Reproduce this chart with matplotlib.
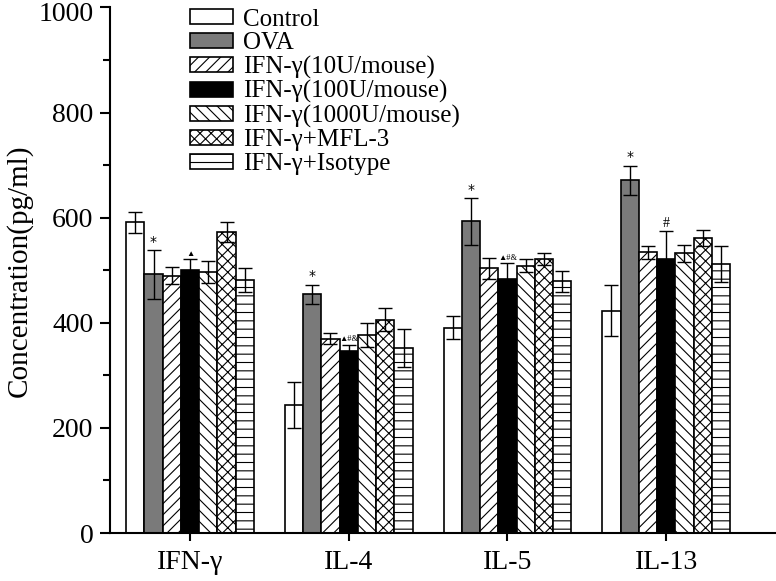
import numpy as np
import matplotlib
matplotlib.use("Agg")
import matplotlib.pyplot as plt
import matplotlib.transforms as mtransforms

plt.rcParams['font.family'] = ['Liberation Serif', 'DejaVu Serif']
plt.rcParams['hatch.linewidth'] = 0.8

# Data
cytokines = ["IFN-γ", "IL-4", "IL-5", "IL-13"]
groups = ["Control", "OVA", "IFN-γ(10U/mouse)", "IFN-γ(100U/mouse)",
          "IFN-γ(1000U/mouse)", "IFN-γ+MFL-3", "IFN-γ+Isotype"]

control = [591, 243, 391, 423]
ova = [492, 454, 593, 671]
ifn10 = [490, 370, 504, 534]
ifn100 = [500, 346, 484, 522]
ifn1000 = [497, 377, 509, 532]
mfl3 = [572, 406, 521, 561]
isotype = [482, 352, 479, 512]

control_err = [20, 44, 22, 48]
ova_err = [46, 18, 44, 28]
ifn10_err = [16, 10, 20, 13]
ifn100_err = [21, 12, 29, 52]
ifn1000_err = [21, 23, 12, 16]
mfl3_err = [19, 22, 11, 15]
isotype_err = [23, 37, 20, 35]

ova_marks = ["*", "*", "*", "*"]
ifn100_marks = ["▲", "▲#&", "▲#&", "#"]

means = [control, ova, ifn10, ifn100, ifn1000, mfl3, isotype]
errs = [control_err, ova_err, ifn10_err, ifn100_err, ifn1000_err, mfl3_err, isotype_err]

# Styles
faces = ["white", "#7a7a7a", "white", "black", "white", "white", "white"]
hatches = [None, None, "///", None, "\\\\\\", "xxx", "--"]

fig = plt.figure(figsize=(7.76, 5.81), dpi=100)
ax = fig.add_axes([0.1418, 0.0826, 0.857, 0.9045])

x = np.arange(len(cytokines))
width = 0.115

handles = []
for i, (m, e) in enumerate(zip(means, errs)):
    pos = x + (i - 3) * width
    b = ax.bar(pos, m, width, color=faces[i], edgecolor="black", linewidth=1.2,
               hatch=hatches[i], label=groups[i], zorder=2)
    ax.errorbar(pos, m, yerr=e, fmt="none", ecolor="black", elinewidth=1.0,
                capsize=5, capthick=1.0, zorder=3)
    handles.append(b)

# significance marks
for j in range(len(cytokines)):
    px = x[j] - 2 * width
    ax.text(px, ova[j] + ova_err[j] + 3, ova_marks[j], ha="center", va="bottom",
            fontsize=10, family=['DejaVu Sans'])
    px = x[j]
    mark = ifn100_marks[j]
    ax.text(px, ifn100[j] + ifn100_err[j] + 3, mark, ha="center", va="bottom",
            fontsize=10 if mark == "#" else 6, family=['Liberation Serif', 'DejaVu Sans'])

ax.set_ylim(0, 1000)
ax.set_xlim(-0.504, 3.686)
ax.set_yticks(np.arange(0, 1001, 200))
ax.set_yticks(np.arange(100, 1000, 200), minor=True)
ax.set_xticks(x)
ax.set_xticklabels(cytokines)
ax.tick_params(axis="both", labelsize=20, width=1.5, direction="out")
ax.tick_params(axis="y", which="major", length=7, pad=5)
ax.tick_params(axis="y", which="minor", length=5, width=1.5)
ax.tick_params(axis="x", which="major", length=6, pad=6)
ax.spines["top"].set_visible(False)
ax.spines["right"].set_visible(False)
ax.spines["left"].set_linewidth(1.5)
ax.spines["bottom"].set_linewidth(1.5)
ax.set_ylabel("Concentration(pg/ml)", fontsize=21, labelpad=4)
ylabels = ax.get_yticklabels()
for lbl in ylabels:
    lbl.set_va("center_baseline")
# keep the top label ("1000") just inside the figure
top = ylabels[-1]
top.set_transform(top.get_transform() +
                  mtransforms.ScaledTranslation(0, -3 / 72, fig.dpi_scale_trans))

leg = ax.legend(handles=handles, loc="upper left", bbox_to_anchor=(0.245, 0.985),
                bbox_transform=fig.transFigure, frameon=False, fontsize=18,
                handlelength=1.72, handleheight=0.55, labelspacing=0.06,
                handletextpad=0.4, borderaxespad=0, borderpad=0)

fig.savefig("out.png", dpi=100)
